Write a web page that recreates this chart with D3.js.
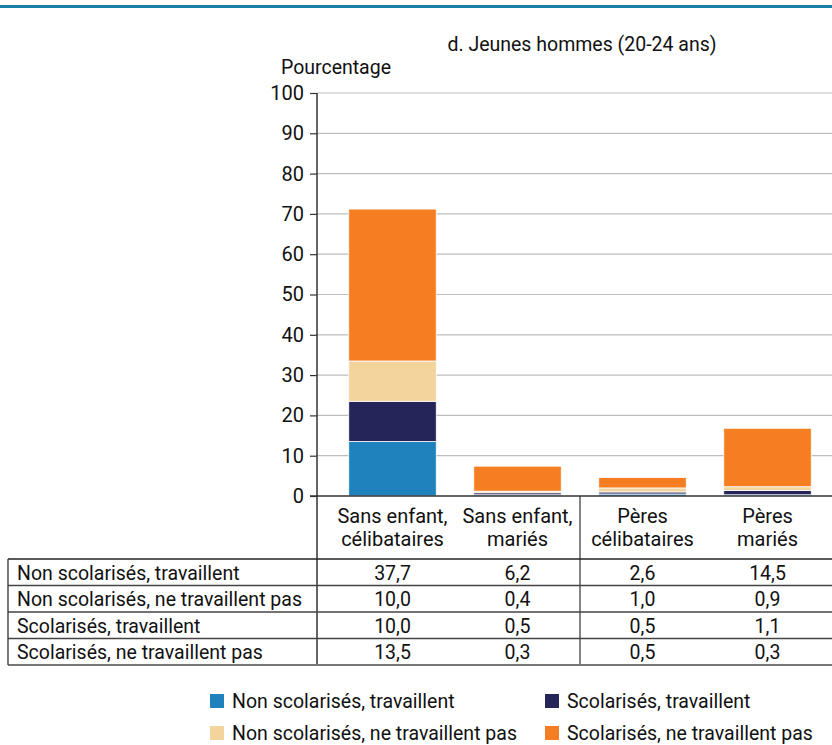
<!DOCTYPE html>
<html>
<head>
<meta charset="utf-8">
<script src="https://cdn.jsdelivr.net/npm/d3@7"></script>
<style>
  html, body { margin: 0; padding: 0; background: #fff; }
  svg { display: block; font-family: Roboto, "Noto Sans", sans-serif; }
</style>
</head>
<body>
<svg id="chart" width="832" height="745"></svg>
<script>
// Household categories (columns)
const categories = [
  ["Sans enfant,", "célibataires"],
  ["Sans enfant,", "mariés"],
  ["Pères", "célibataires"],
  ["Pères", "mariés"]
];

// Table rows, in display order
const rowLabels = [
  "Non scolarisés, travaillent",
  "Non scolarisés, ne travaillent pas",
  "Scolarisés, travaillent",
  "Scolarisés, ne travaillent pas"
];
const nonScolTrav    = [37.7, 6.2, 2.6, 14.5];
const nonScolNonTrav = [10.0, 0.4, 1.0, 0.9];
const scolTrav       = [10.0, 0.5, 0.5, 1.1];
const scolNonTrav    = [13.5, 0.3, 0.5, 0.3];
const rows = [nonScolTrav, nonScolNonTrav, scolTrav, scolNonTrav];

// Bar segment fills, bottom to top of each stack
const stackOrder = [3, 2, 1, 0];
const stackColors = ["#1f82bd", "#25255a", "#f3d49c", "#f47e21"];

// Legend entries
const legendItems = [
  { label: "Non scolarisés, travaillent",        color: "#1f82bd" },
  { label: "Scolarisés, travaillent",            color: "#25255a" },
  { label: "Non scolarisés, ne travaillent pas", color: "#f3d49c" },
  { label: "Scolarisés, ne travaillent pas",     color: "#f47e21" }
];

const yTicks = [0, 10, 20, 30, 40, 50, 60, 70, 80, 90, 100];

const svg = d3.select("#chart");
const fmt = v => d3.format(".1f")(v).replace(".", ",");

// Top rule
svg.append("rect").attr("x", 0).attr("y", 5).attr("width", 832).attr("height", 3).attr("fill", "#1b7ea7");

// Titles
svg.append("text").attr("x", 582).attr("y", 51).attr("text-anchor", "middle")
  .attr("font-size", 19.5).attr("fill", "#111").text("d. Jeunes hommes (20-24 ans)");
svg.append("text").attr("x", 336).attr("y", 74).attr("text-anchor", "middle")
  .attr("font-size", 19.5).attr("fill", "#111").text("Pourcentage");

// Scales
const axisX = 317;
const y = d3.scaleLinear().domain([0, 100]).range([496, 93]);
const x = d3.scaleBand().domain(d3.range(categories.length))
  .range([330, 830]).paddingInner(0.3).paddingOuter(0.15);

// Gridlines
svg.append("g").selectAll("line").data(yTicks.filter(t => t > 0)).join("line")
  .attr("x1", axisX).attr("x2", 832)
  .attr("y1", d => y(d)).attr("y2", d => y(d))
  .attr("stroke", "#bdbdbd").attr("stroke-width", 1.2);

// Y axis
const yAxis = d3.axisLeft(y).tickValues(yTicks).tickSize(7).tickPadding(6);
const gy = svg.append("g").attr("transform", `translate(${axisX},0)`).call(yAxis);
gy.select(".domain").remove();
gy.selectAll(".tick line").attr("stroke", "#333").attr("stroke-width", 1.2);
gy.selectAll(".tick text").attr("font-size", 20).attr("fill", "#111")
  .attr("font-family", "Roboto, sans-serif");

// Stacked bars
const stackData = categories.map((c, i) => {
  const o = { i };
  stackOrder.forEach((r, k) => { o["s" + k] = rows[r][i]; });
  return o;
});
const keys = stackOrder.map((r, k) => "s" + k);
const series = d3.stack().keys(keys)(stackData);
svg.append("g").selectAll("g").data(series).join("g")
  .attr("fill", (d, k) => stackColors[k])
  .selectAll("rect").data(d => d).join("rect")
  .attr("x", d => x(d.data.i))
  .attr("width", x.bandwidth())
  .attr("y", d => y(d[1]))
  .attr("height", d => y(d[0]) - y(d[1]))
  .attr("stroke", "#fff").attr("stroke-width", 0.8);

// Baseline and vertical axis line
svg.append("line").attr("x1", 310).attr("x2", 832).attr("y1", y(0)).attr("y2", y(0))
  .attr("stroke", "#333").attr("stroke-width", 1.5);
svg.append("line").attr("x1", axisX).attr("x2", axisX).attr("y1", y(100)).attr("y2", 665)
  .attr("stroke", "#333").attr("stroke-width", 1.5);

// Category labels
const catG = svg.append("g").attr("font-size", 20).attr("fill", "#111").attr("text-anchor", "middle");
categories.forEach((c, i) => {
  const cx = x(i) + x.bandwidth() / 2;
  c.forEach((line, j) => {
    catG.append("text").attr("x", cx).attr("y", 523 + j * 23).text(line);
  });
});
// Separator between childless and fathers groups
const sepX = (x(1) + x.bandwidth() + x(2)) / 2;
svg.append("line").attr("x1", sepX).attr("x2", sepX).attr("y1", y(0)).attr("y2", 665)
  .attr("stroke", "#333").attr("stroke-width", 1.2);

// Data table
const tableTop = 559, rowH = 26.5, tableLeft = 8;
const tg = svg.append("g");
rows.forEach((vals, r) => {
  const ty = tableTop + r * rowH;
  tg.append("line").attr("x1", tableLeft).attr("x2", 832).attr("y1", ty).attr("y2", ty)
    .attr("stroke", r === 0 ? "#222" : "#444").attr("stroke-width", 1.3);
  tg.append("text").attr("x", tableLeft + 9).attr("y", ty + 20.5)
    .attr("font-size", 19.5).attr("fill", "#111").text(rowLabels[r]);
  vals.forEach((v, i) => {
    tg.append("text").attr("x", x(i) + x.bandwidth() / 2).attr("y", ty + 20.5)
      .attr("text-anchor", "middle").attr("font-size", 19.5).attr("fill", "#111").text(fmt(v));
  });
});
const tableBottom = tableTop + rows.length * rowH;
tg.append("line").attr("x1", tableLeft).attr("x2", 832).attr("y1", tableBottom).attr("y2", tableBottom)
  .attr("stroke", "#777").attr("stroke-width", 2);
tg.append("line").attr("x1", tableLeft).attr("x2", tableLeft).attr("y1", tableTop).attr("y2", tableBottom)
  .attr("stroke", "#333").attr("stroke-width", 1.3);

// Legend
const lg = svg.append("g").attr("font-size", 19.5).attr("fill", "#111");
legendItems.forEach((d, k) => {
  const col = k % 2, row = Math.floor(k / 2);
  const lx = col === 0 ? 210 : 545;
  const ly = 701 + row * 32;
  lg.append("rect").attr("x", lx).attr("y", ly - 7).attr("width", 14).attr("height", 14).attr("fill", d.color);
  lg.append("text").attr("x", lx + 22).attr("y", ly + 7).text(d.label);
});
</script>
</body>
</html>
